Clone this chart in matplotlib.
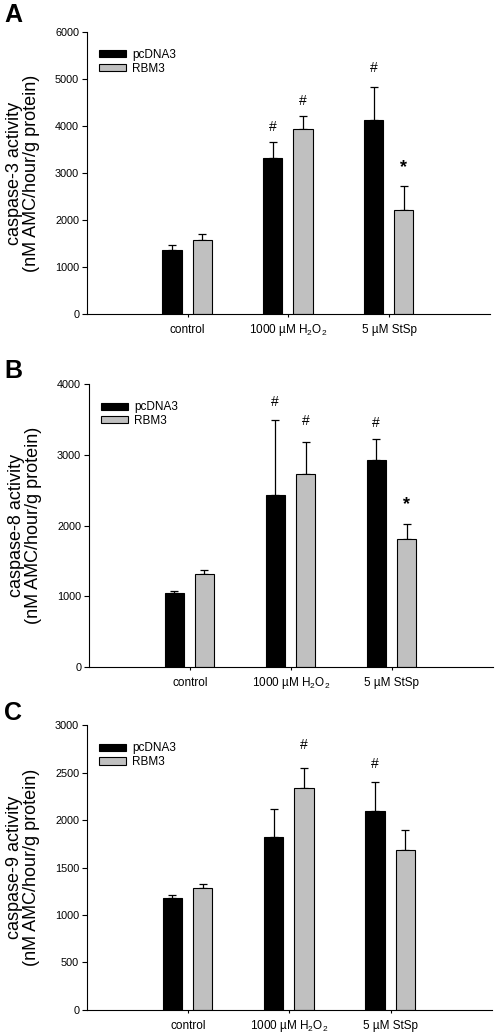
import numpy as np
import matplotlib
matplotlib.use("Agg")
import matplotlib.pyplot as plt
from matplotlib.patches import Patch

plt.rcParams['font.family'] = ['Liberation Sans', 'DejaVu Sans']
plt.rcParams['mathtext.fontset'] = 'custom'
plt.rcParams['mathtext.rm'] = 'Liberation Sans'
plt.rcParams['mathtext.it'] = 'Liberation Sans'
plt.rcParams['mathtext.default'] = 'regular'

# Data
groups = ["control", "1000 µM H$_2$O$_2$", "5 µM StSp"]
series = ["pcDNA3", "RBM3"]

casp3_pc = [1370, 3310, 4130]
casp3_pc_err = [90, 360, 700]
casp3_rb = [1565, 3945, 2215]
casp3_rb_err = [145, 275, 515]

casp8_pc = [1045, 2430, 2930]
casp8_pc_err = [35, 1060, 300]
casp8_rb = [1315, 2725, 1810]
casp8_rb_err = [62, 462, 218]

casp9_pc = [1180, 1825, 2100]
casp9_pc_err = [33, 288, 302]
casp9_rb = [1280, 2342, 1680]
casp9_rb_err = [49, 210, 211]

# significance marks: (group index, series index, symbol, baseline y)
marks3 = [(1, 0, "#", 3890), (1, 1, "#", 4450), (2, 0, "#", 5150), (2, 1, "*", 3020)]
marks8 = [(1, 0, "#", 3690), (1, 1, "#", 3430), (2, 0, "#", 3400), (2, 1, "*", 2240)]
marks9 = [(1, 1, "#", 2750), (2, 0, "#", 2550)]

# panel letter, y label, data, marks, y max, y step, axes rect, letter top (px)
panels = [
    ("A", "caspase-3 activity", casp3_pc, casp3_pc_err, casp3_rb, casp3_rb_err,
     marks3, 6000, 1000, [0.175, 0.6963, 0.813, 0.2727], 3),
    ("B", "caspase-8 activity", casp8_pc, casp8_pc_err, casp8_rb, casp8_rb_err,
     marks8, 4000, 1000, [0.179, 0.355, 0.815, 0.2733], 359),
    ("C", "caspase-9 activity", casp9_pc, casp9_pc_err, casp9_rb, casp9_rb_err,
     marks9, 3000, 500, [0.175, 0.0235, 0.817, 0.275], 701),
]

colors = ["black", "#c0c0c0"]
width = 0.19
offsets = [-0.155, 0.145]

fig = plt.figure(figsize=(4.96, 10.34), dpi=100)

for letter, name, pc, pc_err, rb, rb_err, marks, ymax, ystep, rect, ltop in panels:
    ax = fig.add_axes(rect)
    x = np.arange(1, len(groups) + 1)
    vals = [pc, rb]
    errs = [pc_err, rb_err]
    for i in range(2):
        xs = x + offsets[i]
        ax.bar(xs, vals[i], width=width, color=colors[i], edgecolor="black",
               linewidth=0.8, zorder=2)
        ax.errorbar(xs, vals[i], yerr=[np.zeros(len(xs)), errs[i]], fmt="none",
                    ecolor="black", elinewidth=0.9, capsize=3.0, capthick=0.9,
                    zorder=1)
    for g, s, sym, yb in marks:
        if sym == "*":
            ax.text(x[g] + offsets[s], yb, sym, ha="center", va="baseline",
                    fontsize=13, fontweight="bold")
        else:
            ax.text(x[g] + offsets[s], yb, sym, ha="center", va="baseline",
                    fontsize=10)

    ax.set_xlim(0, 4)
    ax.set_ylim(0, ymax)
    ax.set_yticks(np.arange(0, ymax + 1, ystep))
    ax.set_xticks(x)
    ax.set_xticklabels(groups, fontsize=8.5)
    for lab in ax.get_xticklabels():
        lab.set_verticalalignment("baseline")
    ax.tick_params(axis="y", labelsize=7.8, length=3.5, width=0.8, pad=2)
    ax.tick_params(axis="x", length=2.5, width=0.8, pad=11.5)
    for side in ["top", "right"]:
        ax.spines[side].set_visible(False)
    for side in ["left", "bottom"]:
        ax.spines[side].set_linewidth(0.8)
    ax.set_ylabel(name + "\n(nM AMC/hour/g protein)", fontsize=13,
                  labelpad=11, linespacing=1.0)

    handles = [Patch(facecolor=colors[i], edgecolor="black", linewidth=0.8)
               for i in range(2)]
    ax.legend(handles, series, loc="upper left", bbox_to_anchor=(0.03, 0.94),
              frameon=False, fontsize=8.5, handlelength=2.3, handleheight=0.55,
              labelspacing=0.15, handletextpad=0.5, borderpad=0,
              borderaxespad=0)

    fig.text(0.008, 1 - ltop / 1034, letter, fontsize=18,
             fontweight="bold", va="top", ha="left")

fig.savefig("out.png", dpi=100)
